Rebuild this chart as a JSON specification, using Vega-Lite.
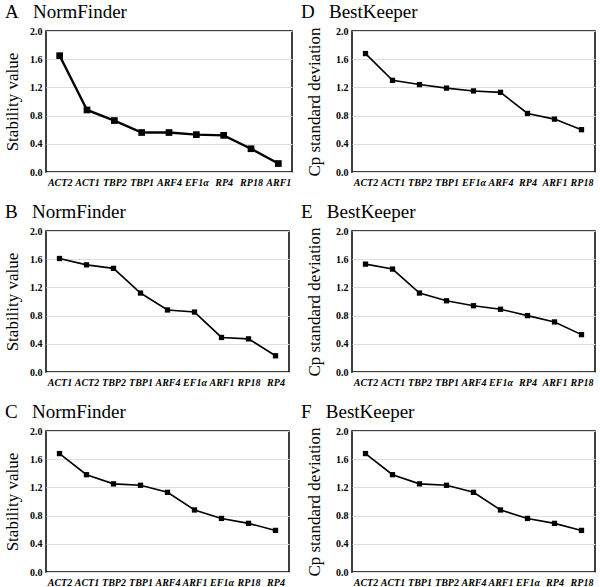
{
  "$schema": "https://vega.github.io/schema/vega-lite/v6.json",
  "background": "white",
  "padding": {"left": 2, "top": 2, "right": 2, "bottom": 2},
  "spacing": {"row": 14, "column": 7},
  "config": {
    "view": {"stroke": "black", "strokeWidth": 1.5},
    "axis": {
      "labelFont": "Liberation Serif",
      "labelFontWeight": "bold",
      "labelFontSize": 10,
      "labelColor": "black",
      "titleFont": "Liberation Serif",
      "titleFontWeight": "normal",
      "titleFontSize": 17,
      "titleColor": "black",
      "ticks": false,
      "domain": false,
      "gridColor": "#dddddd",
      "gridWidth": 1
    },
    "title": {
      "font": "Liberation Serif",
      "fontSize": 19,
      "fontWeight": "normal",
      "color": "black",
      "anchor": "start",
      "frame": "group"
    }
  },
  "data": {
    "values": [
      {"panel": "A", "gene": "ACT2", "value": 1.65},
      {"panel": "A", "gene": "ACT1", "value": 0.88},
      {"panel": "A", "gene": "TBP2", "value": 0.73},
      {"panel": "A", "gene": "TBP1", "value": 0.56},
      {"panel": "A", "gene": "ARF4", "value": 0.56},
      {"panel": "A", "gene": "EF1α", "value": 0.53},
      {"panel": "A", "gene": "RP4", "value": 0.52},
      {"panel": "A", "gene": "RP18", "value": 0.33},
      {"panel": "A", "gene": "ARF1", "value": 0.12},
      {"panel": "D", "gene": "ACT2", "value": 1.68},
      {"panel": "D", "gene": "ACT1", "value": 1.3},
      {"panel": "D", "gene": "TBP2", "value": 1.24},
      {"panel": "D", "gene": "TBP1", "value": 1.19},
      {"panel": "D", "gene": "EF1α", "value": 1.15},
      {"panel": "D", "gene": "ARF4", "value": 1.13},
      {"panel": "D", "gene": "RP4", "value": 0.83},
      {"panel": "D", "gene": "ARF1", "value": 0.75},
      {"panel": "D", "gene": "RP18", "value": 0.6},
      {"panel": "B", "gene": "ACT1", "value": 1.61},
      {"panel": "B", "gene": "ACT2", "value": 1.52},
      {"panel": "B", "gene": "TBP2", "value": 1.47},
      {"panel": "B", "gene": "TBP1", "value": 1.12},
      {"panel": "B", "gene": "ARF4", "value": 0.88},
      {"panel": "B", "gene": "EF1α", "value": 0.85},
      {"panel": "B", "gene": "ARF1", "value": 0.49},
      {"panel": "B", "gene": "RP18", "value": 0.47},
      {"panel": "B", "gene": "RP4", "value": 0.23},
      {"panel": "E", "gene": "ACT2", "value": 1.53},
      {"panel": "E", "gene": "ACT1", "value": 1.46},
      {"panel": "E", "gene": "TBP2", "value": 1.12},
      {"panel": "E", "gene": "TBP1", "value": 1.01},
      {"panel": "E", "gene": "ARF4", "value": 0.94},
      {"panel": "E", "gene": "EF1α", "value": 0.89},
      {"panel": "E", "gene": "RP4", "value": 0.8},
      {"panel": "E", "gene": "ARF1", "value": 0.71},
      {"panel": "E", "gene": "RP18", "value": 0.53},
      {"panel": "C", "gene": "ACT2", "value": 1.68},
      {"panel": "C", "gene": "ACT1", "value": 1.38},
      {"panel": "C", "gene": "TBP2", "value": 1.25},
      {"panel": "C", "gene": "TBP1", "value": 1.23},
      {"panel": "C", "gene": "ARF4", "value": 1.13},
      {"panel": "C", "gene": "ARF1", "value": 0.88},
      {"panel": "C", "gene": "EF1α", "value": 0.76},
      {"panel": "C", "gene": "RP18", "value": 0.69},
      {"panel": "C", "gene": "RP4", "value": 0.59},
      {"panel": "F", "gene": "ACT2", "value": 1.68},
      {"panel": "F", "gene": "ACT1", "value": 1.38},
      {"panel": "F", "gene": "TBP1", "value": 1.25},
      {"panel": "F", "gene": "TBP2", "value": 1.23},
      {"panel": "F", "gene": "ARF4", "value": 1.13},
      {"panel": "F", "gene": "ARF1", "value": 0.88},
      {"panel": "F", "gene": "EF1α", "value": 0.76},
      {"panel": "F", "gene": "RP4", "value": 0.69},
      {"panel": "F", "gene": "RP18", "value": 0.59}
    ]
  },
  "columns": 2,
  "concat": [
    {
      "title": {"text": "A\u00a0\u00a0\u00a0NormFinder", "dx": -41},
      "width": 246, "height": 141,
      "transform": [{"filter": "datum.panel == 'A'"}],
      "encoding": {
        "x": {"field": "gene", "type": "nominal", "sort": null, "scale": {"type": "band", "paddingInner": 0, "paddingOuter": 0},
              "axis": {"title": null, "labelAngle": 0, "labelFontStyle": "italic", "tickBand": "extent", "labelPadding": 5}},
        "y": {"field": "value", "type": "quantitative", "scale": {"domain": [0, 2]},
              "axis": {"title": "Stability value", "values": [0, 0.4, 0.8, 1.2, 1.6, 2.0], "format": ".1f", "labelPadding": 4, "titlePadding": 8}}
      },
      "layer": [
        {"mark": {"type": "line", "color": "black", "strokeWidth": 2.4}},
        {"mark": {"type": "point", "shape": "square", "filled": true, "color": "black", "opacity": 1, "size": 45}}
      ]
    },
    {
      "title": {"text": "D\u00a0\u00a0\u00a0BestKeeper", "dx": -51},
      "width": 243, "height": 141,
      "transform": [{"filter": "datum.panel == 'D'"}],
      "encoding": {
        "x": {"field": "gene", "type": "nominal", "sort": null, "scale": {"type": "band", "paddingInner": 0, "paddingOuter": 0},
              "axis": {"title": null, "labelAngle": 0, "labelFontStyle": "italic", "tickBand": "extent", "labelPadding": 5}},
        "y": {"field": "value", "type": "quantitative", "scale": {"domain": [0, 2]},
              "axis": {"title": "Cp standard deviation", "values": [0, 0.4, 0.8, 1.2, 1.6, 2.0], "format": ".1f", "labelPadding": 4, "titlePadding": 12}}
      },
      "layer": [
        {"mark": {"type": "line", "color": "black", "strokeWidth": 1.6}},
        {"mark": {"type": "point", "shape": "square", "filled": true, "color": "black", "opacity": 1, "size": 28}}
      ]
    },
    {
      "title": {"text": "B\u00a0\u00a0\u00a0NormFinder", "dx": -41},
      "width": 243, "height": 141,
      "transform": [{"filter": "datum.panel == 'B'"}],
      "encoding": {
        "x": {"field": "gene", "type": "nominal", "sort": null, "scale": {"type": "band", "paddingInner": 0, "paddingOuter": 0},
              "axis": {"title": null, "labelAngle": 0, "labelFontStyle": "italic", "tickBand": "extent", "labelPadding": 5}},
        "y": {"field": "value", "type": "quantitative", "scale": {"domain": [0, 2]},
              "axis": {"title": "Stability value", "values": [0, 0.4, 0.8, 1.2, 1.6, 2.0], "format": ".1f", "labelPadding": 4, "titlePadding": 8}}
      },
      "layer": [
        {"mark": {"type": "line", "color": "black", "strokeWidth": 1.6}},
        {"mark": {"type": "point", "shape": "square", "filled": true, "color": "black", "opacity": 1, "size": 28}}
      ]
    },
    {
      "title": {"text": "E\u00a0\u00a0\u00a0BestKeeper", "dx": -51},
      "width": 243, "height": 141,
      "transform": [{"filter": "datum.panel == 'E'"}],
      "encoding": {
        "x": {"field": "gene", "type": "nominal", "sort": null, "scale": {"type": "band", "paddingInner": 0, "paddingOuter": 0},
              "axis": {"title": null, "labelAngle": 0, "labelFontStyle": "italic", "tickBand": "extent", "labelPadding": 5}},
        "y": {"field": "value", "type": "quantitative", "scale": {"domain": [0, 2]},
              "axis": {"title": "Cp standard deviation", "values": [0, 0.4, 0.8, 1.2, 1.6, 2.0], "format": ".1f", "labelPadding": 4, "titlePadding": 12}}
      },
      "layer": [
        {"mark": {"type": "line", "color": "black", "strokeWidth": 1.6}},
        {"mark": {"type": "point", "shape": "square", "filled": true, "color": "black", "opacity": 1, "size": 28}}
      ]
    },
    {
      "title": {"text": "C\u00a0\u00a0\u00a0NormFinder", "dx": -41},
      "width": 243, "height": 141,
      "transform": [{"filter": "datum.panel == 'C'"}],
      "encoding": {
        "x": {"field": "gene", "type": "nominal", "sort": null, "scale": {"type": "band", "paddingInner": 0, "paddingOuter": 0},
              "axis": {"title": null, "labelAngle": 0, "labelFontStyle": "italic", "tickBand": "extent", "labelPadding": 5}},
        "y": {"field": "value", "type": "quantitative", "scale": {"domain": [0, 2]},
              "axis": {"title": "Stability value", "values": [0, 0.4, 0.8, 1.2, 1.6, 2.0], "format": ".1f", "labelPadding": 4, "titlePadding": 8}}
      },
      "layer": [
        {"mark": {"type": "line", "color": "black", "strokeWidth": 1.6}},
        {"mark": {"type": "point", "shape": "square", "filled": true, "color": "black", "opacity": 1, "size": 28}}
      ]
    },
    {
      "title": {"text": "F\u00a0\u00a0\u00a0BestKeeper", "dx": -51},
      "width": 243, "height": 141,
      "transform": [{"filter": "datum.panel == 'F'"}],
      "encoding": {
        "x": {"field": "gene", "type": "nominal", "sort": null, "scale": {"type": "band", "paddingInner": 0, "paddingOuter": 0},
              "axis": {"title": null, "labelAngle": 0, "labelFontStyle": "italic", "tickBand": "extent", "labelPadding": 5}},
        "y": {"field": "value", "type": "quantitative", "scale": {"domain": [0, 2]},
              "axis": {"title": "Cp standard deviation", "values": [0, 0.4, 0.8, 1.2, 1.6, 2.0], "format": ".1f", "labelPadding": 4, "titlePadding": 12}}
      },
      "layer": [
        {"mark": {"type": "line", "color": "black", "strokeWidth": 1.6}},
        {"mark": {"type": "point", "shape": "square", "filled": true, "color": "black", "opacity": 1, "size": 28}}
      ]
    }
  ]
}
